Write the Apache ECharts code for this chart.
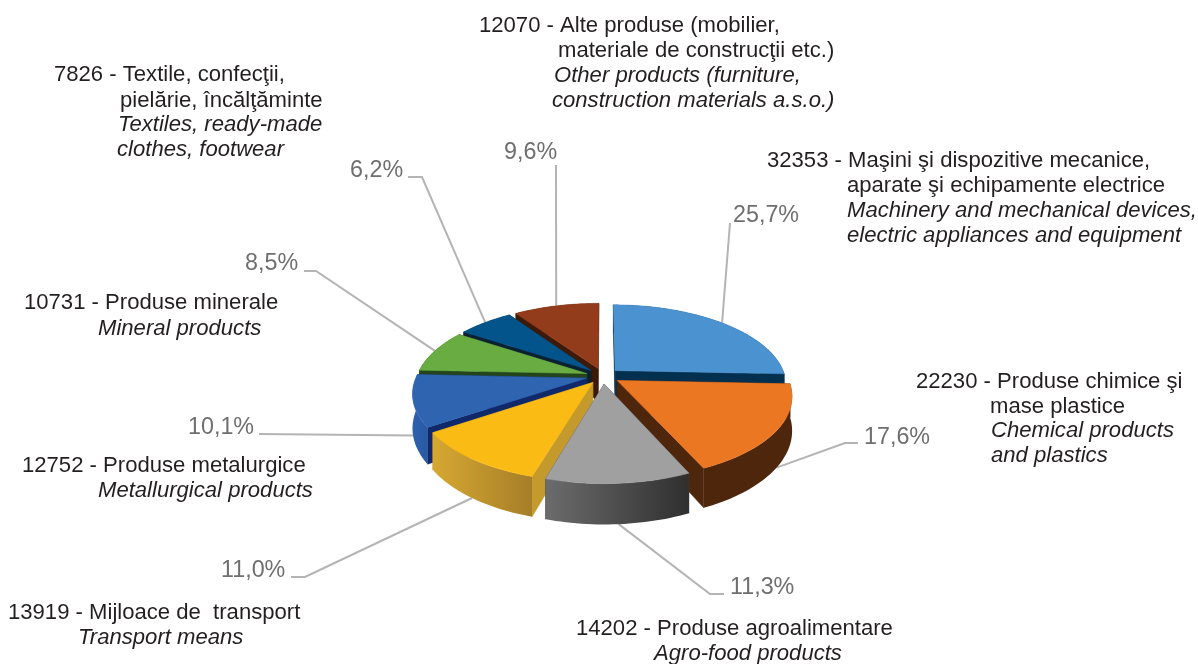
<!DOCTYPE html>
<html><head><meta charset="utf-8">
<style>html,body{margin:0;padding:0;background:#fff}#c{width:1198px;height:664px}</style>
<script src="https://cdn.jsdelivr.net/npm/echarts@6/dist/echarts.min.js"></script>
</head><body><div id="c"></div>
<script>
// ---- data ----
const values = [32353, 22230, 14202, 13919, 12752, 10731, 7826, 12070];
const namesRo = [
  ['Maşini şi dispozitive mecanice,', 'aparate şi echipamente electrice'],
  ['Produse chimice şi', 'mase plastice'],
  ['Produse agroalimentare'],
  ['Mijloace de  transport'],
  ['Produse metalurgice'],
  ['Produse minerale'],
  ['Textile, confecţii,', 'pielărie, încălţăminte'],
  ['Alte produse (mobilier,', 'materiale de construcţii etc.)']
];
const namesEn = [
  ['Machinery and mechanical devices,', 'electric appliances and equipment'],
  ['Chemical products', 'and plastics'],
  ['Agro-food products'],
  ['Transport means'],
  ['Metallurgical products'],
  ['Mineral products'],
  ['Textiles, ready-made', 'clothes, footwear'],
  ['Other products (furniture,', 'construction materials a.s.o.)']
];
// ---- styles ----
const topColors  = ['#4a92d0','#ec7723','#a0a0a0','#fabb14','#2f64b0','#68ac42','#04548c','#933c1c'];
const edgeColors = ['#03304f','#4d260c','#444444','#c49a2c','#10296a','#24451c','#0b2030','#3d1a08'];
const wallFrom   = ['#03304f','#4d260c','#6c6c6c','#d6a832','#2e60ae','#24451c','#0b2030','#3d1a08'];
const wallTo     = ['#03304f','#4d260c','#2f2f2f','#a67e28','#2a5aa6','#24451c','#0b2030','#3d1a08'];
// ---- layout: [x,y] for each text line, elbow points of leaders, percent label ----
const textPos = [
  [[767,161],[847,186],[847,211],[847,236]],
  [[916,382],[990,407],[991,431],[991,456]],
  [[576,629],[654,654]],
  [[8,613],[78,638]],
  [[22,466],[98,491]],
  [[24,303],[98,329]],
  [[54,75],[120,101],[118,125],[117,150]],
  [[479,26],[558,51],[554,76],[552,101]]
];
const pctPos = [[733,216],[864,438],[730,588],[221,571],[188,428],[245,264],[350,171],[504,153]];
const elbows = [
  [[730,223]],
  [[845,443],[858,443]],
  [[710,594],[724,594]],
  [[305,577],[291,577]],
  [[259,434]],
  [[316,271],[304,271]],
  [[422,177],[408,177]],
  [[556,165]]
];
// ---- projection ----
const cx=603, cy=376, Rx=170, Ry=79, K=0.175, EX=0.1, H=33;
const total = values.reduce((a,b)=>a+b,0);
const angles=[]; { let acc=0; values.forEach(v=>{const a0=acc/total*2*Math.PI; acc+=v; angles.push([a0,acc/total*2*Math.PI]);}); }
function proj(u,v,down){ const s=1/(1-K*v); return [cx+Rx*u*s, cy+Ry*v*s+(down?H*s:0)]; }
function pt(a,r,ox,oy,down){ return proj(ox+r*Math.sin(a), oy-r*Math.cos(a), down); }
const mids=angles.map(([a,b])=>(a+b)/2);
const ranks=(()=>{const idx=values.map((_,i)=>i).sort((p,q)=>(-Math.cos(mids[p]))-(-Math.cos(mids[q])));
  const r=[];idx.forEach((id,k)=>r[id]=k);return r;})();

function renderSlice(params, api){
  const i=api.value(0);
  const [a0,a1]=angles[i]; const m=mids[i];
  const ox=EX*Math.sin(m), oy=-EX*Math.cos(m);
  const n=Math.max(8,Math.round((a1-a0)*40));
  const arcT=[],arcB=[];
  for(let j=0;j<=n;j++){const a=a0+(a1-a0)*j/n; arcT.push(pt(a,1,ox,oy,false)); arcB.push(pt(a,1,ox,oy,true));}
  const apexT=proj(ox,oy,false), apexB=proj(ox,oy,true);
  const base=10+ranks[i]*5;
  const children=[];
  // leader line
  const midV=oy-Math.cos(m);
  const anchor=pt(m,1,ox,oy,midV>0.2);
  children.push({type:'polyline',z2:1,shape:{points:[anchor].concat(elbows[i])},style:{stroke:'#b4b4b4',lineWidth:2,fill:null}});
  // radial edge walls
  children.push({type:'polygon',z2:base,shape:{points:[apexT,arcT[0],arcB[0],apexB]},style:{fill:edgeColors[i],stroke:edgeColors[i],lineWidth:0.5}});
  children.push({type:'polygon',z2:base,shape:{points:[apexT,arcT[n],arcB[n],apexB]},style:{fill:edgeColors[i],stroke:edgeColors[i],lineWidth:0.5}});
  // outer wall
  children.push({type:'polygon',z2:base+1,shape:{points:arcT.concat(arcB.slice().reverse())},
    style:{fill:new echarts.graphic.LinearGradient(0,0,1,0,[{offset:0,color:wallFrom[i]},{offset:1,color:wallTo[i]}])}});
  // top
  children.push({type:'polygon',z2:base+2,shape:{points:[apexT].concat(arcT)},style:{fill:topColors[i],stroke:topColors[i],lineWidth:0.5}});
  return {type:'group',children};
}

const graphics=[];
const TXT='#231f20';
values.forEach((v,i)=>{
  const lines=[...namesRo[i].map((t,k)=>({t:k===0?`${v} - ${t}`:t,it:false})), ...namesEn[i].map(t=>({t,it:true}))];
  lines.forEach((l,k)=>{
    graphics.push({type:'text',x:textPos[i][k][0],y:textPos[i][k][1],
      style:{text:l.t,fill:TXT,font:(l.it?'italic ':'')+'22.1px "Liberation Sans"',textAlign:'left',textVerticalAlign:'middle'}});
  });
  graphics.push({type:'text',x:pctPos[i][0],y:pctPos[i][1],
    style:{text:(v/total*100).toFixed(1).replace('.',',')+'%',fill:'#6f6f6f',font:'23.3px "Liberation Sans"',textAlign:'left',textVerticalAlign:'middle'}});
});

const chart=echarts.init(document.getElementById('c'),null,{renderer:'canvas'});
chart.setOption({
  animation:false,
  backgroundColor:'#fff',
  graphic:{elements:graphics},
  series:[{type:'custom',coordinateSystem:'none',renderItem:renderSlice,
    data:values.map((v,i)=>[i,v]),encode:{value:1},silent:true,clip:false}]
});
</script></body></html>
